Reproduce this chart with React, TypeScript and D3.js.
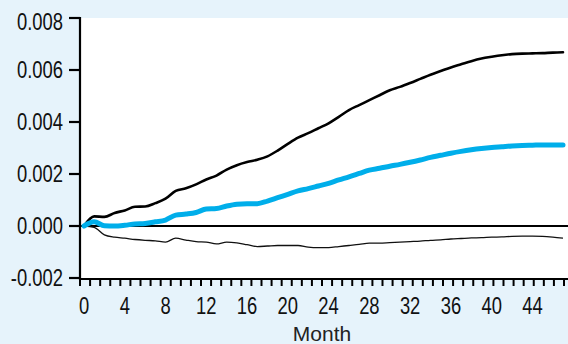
import React from "react";
import * as d3 from "d3";

const months: number[] = Array.from({ length: 48 }, (_, i) => i);
const upper: number[] = [
  0, 0.00037, 0.00035, 0.0005, 0.0006, 0.00074, 0.00075, 0.00088, 0.00105, 0.00135,
  0.00145, 0.0016, 0.00179, 0.00194, 0.00217, 0.00234, 0.00246, 0.00255, 0.00268, 0.0029,
  0.00316, 0.0034, 0.00357, 0.00376, 0.00395, 0.0042, 0.00446, 0.00465, 0.00484, 0.00503,
  0.00522, 0.00535, 0.0055, 0.00566, 0.00582, 0.00596, 0.0061, 0.00622, 0.00634, 0.00644,
  0.00651, 0.00657, 0.00661, 0.00663, 0.00664, 0.00665, 0.00667, 0.00668,
];
const central: number[] = [
  0, 0.00016, 0.00001, 0.0, 0.00003, 0.00008, 0.0001, 0.00016, 0.00023, 0.00042,
  0.00046, 0.00052, 0.00065, 0.00067, 0.00077, 0.00084, 0.00086, 0.00086, 0.00096, 0.00109,
  0.00122, 0.00135, 0.00144, 0.00154, 0.00164, 0.00177, 0.00189, 0.00202, 0.00215, 0.00222,
  0.0023, 0.00237, 0.00245, 0.00254, 0.00264, 0.00272, 0.0028, 0.00287, 0.00293, 0.00298,
  0.00302, 0.00305, 0.00308, 0.0031, 0.00311, 0.00312, 0.00312, 0.00312,
];
const lower: number[] = [
  0, -0.00005, -0.00034, -0.00043, -0.00047, -0.00052, -0.00055, -0.00057, -0.00062, -0.00047,
  -0.00054, -0.0006, -0.00062, -0.00069, -0.00062, -0.00065, -0.00072, -0.00079, -0.00077, -0.00075,
  -0.00075, -0.00075, -0.00081, -0.00083, -0.00083, -0.00079, -0.00075, -0.00071, -0.00066, -0.00066,
  -0.00064, -0.00062, -0.0006, -0.00058, -0.00055, -0.00053, -0.0005, -0.00048, -0.00046, -0.00045,
  -0.00043, -0.00042, -0.0004, -0.00039, -0.00039, -0.0004, -0.00043, -0.00047,
];
const yTicks: number[] = [-0.002, 0, 0.002, 0.004, 0.006, 0.008];
const xTickLabels: number[] = [0, 4, 8, 12, 16, 20, 24, 28, 32, 36, 40, 44];
const minorTicks: number[] = Array.from({ length: 49 }, (_, i) => i);
const xTitle = "Month";

const W = 568;
const H = 344;
const left = 80;
const right = 568;
const top = 18;
const bottom = 279;

const BG = "#e6f3fb";
const BLUE = "#00aeea";
const FONT = "'Liberation Sans', Arial, sans-serif";
const NARROW_SCALE = 0.8;

function NarrowText({
  x,
  y,
  anchor,
  children,
}: {
  x: number;
  y: number;
  anchor: "start" | "middle" | "end";
  children: React.ReactNode;
}) {
  return (
    <text
      transform={`translate(${x},${y}) scale(${NARROW_SCALE},1)`}
      textAnchor={anchor}
      fontFamily={FONT}
      fontSize={23}
      fill="#111"
    >
      {children}
    </text>
  );
}

const fmtY = (t: number) => d3.format(".3f")(t).replace("\u2212", "-");

export default function App() {
  const x = d3.scaleLinear().domain([0, 47]).range([84, 563]);
  const xt = d3.scaleLinear().domain([0, 48]).range([80, 564]);
  const y = d3.scaleLinear().domain([-0.002, 0.008]).range([bottom - 1, top]);

  const line = (vals: number[]) =>
    d3
      .line<number>()
      .x((_, i) => x(months[i]))
      .y((d) => y(d))
      .curve(d3.curveMonotoneX)(vals) as string;

  return (
    <svg
      width={W}
      height={H}
      style={{ position: "absolute", left: 0, top: 0, display: "block" }}
    >
      <rect x={0} y={0} width={W} height={H} fill={BG} />
      <rect x={left} y={top} width={right - left} height={bottom - top} fill="#ffffff" />

      {/* zero line */}
      <line x1={left} x2={right} y1={y(0)} y2={y(0)} stroke="#000" strokeWidth={2} />

      <path d={line(lower)} fill="none" stroke="#111" strokeWidth={1.3} />
      <path d={line(upper)} fill="none" stroke="#000" strokeWidth={2.6} strokeLinejoin="round" strokeLinecap="round" />
      <path d={line(central)} fill="none" stroke={BLUE} strokeWidth={5} strokeLinejoin="round" strokeLinecap="round" />

      {/* y axis */}
      <line x1={left} x2={left} y1={top - 1} y2={bottom + 1} stroke="#000" strokeWidth={2.2} />
      {yTicks.map((t) => (
        <g key={t}>
          <line x1={left - 11} x2={left} y1={y(t)} y2={y(t)} stroke="#000" strokeWidth={2.2} />
          <NarrowText x={left - 17} y={Math.max(y(t), 22) + 8} anchor="end">
            {fmtY(t)}
          </NarrowText>
        </g>
      ))}

      {/* x axis */}
      <line x1={left - 1} x2={right} y1={bottom} y2={bottom} stroke="#000" strokeWidth={2.2} />
      {minorTicks.map((m) => (
        <line key={m} x1={xt(m)} x2={xt(m)} y1={bottom} y2={bottom + 7} stroke="#000" strokeWidth={2} />
      ))}
      {xTickLabels.map((m) => (
        <NarrowText key={m} x={x(m)} y={314} anchor="middle">
          {m}
        </NarrowText>
      ))}
      <text x={322} y={341} textAnchor="middle" fontFamily={FONT} fontSize={21} fill="#222">
        {xTitle}
      </text>
    </svg>
  );
}
